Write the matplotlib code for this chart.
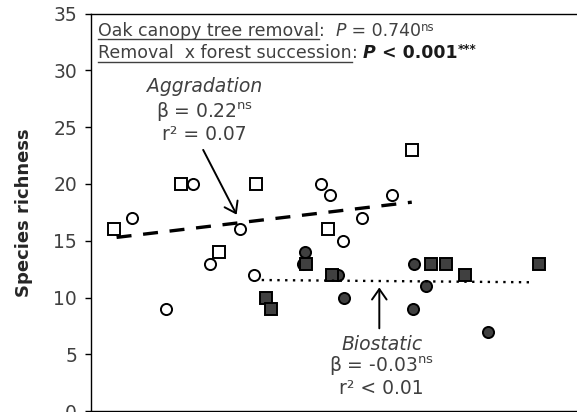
import numpy as np
import matplotlib.pyplot as plt
from matplotlib.lines import Line2D

plt.rc('font', family='DejaVu Sans')
plt.rc('mathtext', fontset='dejavusans')

# aggradation plots (open markers): squares = removal, circles = control
agg_rem_x = [4.7, 18.3, 26.0, 33.6, 48.1, 65.3]
agg_rem_y = [16, 20, 14, 20, 16, 23]
agg_ctl_x = [8.3, 20.8, 15.2, 24.2, 30.3, 33.2, 46.7, 48.6, 51.3, 55.1, 61.2]
agg_ctl_y = [17, 20, 9, 13, 16, 12, 20, 19, 15, 17, 19]

# biostatic plots (filled markers)
bio_rem_x = [35.6, 36.6, 43.7, 49.0, 69.2, 72.1, 76.0, 91.1]
bio_rem_y = [10, 9, 13, 12, 13, 13, 12, 13]
bio_ctl_x = [43.4, 43.1, 50.3, 51.5, 65.7, 65.5, 68.1, 80.6]
bio_ctl_y = [14, 13, 12, 10, 13, 9, 11, 7]

# fitted trend lines (end points)
agg_fit_x = [5.2, 65.2]
agg_fit_y = [15.3, 18.4]
bio_fit_x = [34.7, 89.9]
bio_fit_y = [11.55, 11.35]

txt = '#404040'
fill = '#404040'

fig = plt.figure(figsize=(5.77, 4.12), dpi=100)
ax = fig.add_axes([91/577, 0.7/412, 492/577, 397.8/412])

ms = 8
mew = 1.4
ax.plot(agg_ctl_x, agg_ctl_y, 'o', ms=ms, mfc='white', mec='black', mew=mew, zorder=3)
ax.plot(agg_rem_x, agg_rem_y, 's', ms=ms, mfc='white', mec='black', mew=mew, zorder=3)
ax.plot(bio_ctl_x, bio_ctl_y, 'o', ms=ms, mfc=fill, mec='black', mew=mew, zorder=3)
ax.plot(bio_rem_x, bio_rem_y, 's', ms=ms, mfc=fill, mec='black', mew=mew, zorder=3)

ax.plot(agg_fit_x, agg_fit_y, color='black', lw=2.4, ls=(0, (4.5, 3.5)), zorder=4)
ax.plot(bio_fit_x, bio_fit_y, color='black', lw=1.7, ls=(0, (1, 2.3)), zorder=4)

ax.set_xlim(0, 100)
ax.set_ylim(0, 35)
ax.set_xticks([])
ax.set_yticks(np.arange(0, 36, 5))
ax.tick_params(axis='y', direction='out', length=4.5, width=1, pad=5.5,
               labelsize=13.5, labelcolor=txt)
ax.spines['right'].set_visible(False)
for s in ['left', 'top', 'bottom']:
    ax.spines[s].set_linewidth(1)
ax.set_ylabel('Species richness', fontsize=13, fontweight='bold', color='#262626')
ax.yaxis.set_label_coords(-0.117, 0.5)

# annotations
arr = dict(arrowstyle='->, head_length=0.5, head_width=0.35', lw=1.4,
           color='black', mutation_scale=15, shrinkA=0, shrinkB=0)
ax.annotate('', xy=(29.6, 17.3), xytext=(22.8, 23.0), arrowprops=arr)
ax.annotate('', xy=(58.6, 10.9), xytext=(58.6, 7.3), arrowprops=arr)

fs = 13.5
ax.text(23.0, 28.1, 'Aggradation', style='italic', ha='center', va='baseline', fontsize=fs, color=txt)
ax.text(23.0, 25.8, r'β = 0.22$^{\mathregular{ns}}$', ha='center', va='baseline', fontsize=fs, color=txt)
ax.text(23.0, 23.9, 'r² = 0.07', ha='center', va='baseline', fontsize=fs, color=txt)
ax.text(59.1, 5.35, 'Biostatic', style='italic', ha='center', va='baseline', fontsize=fs, color=txt)
ax.text(59.1, 3.45, r'β = -0.03$^{\mathregular{ns}}$', ha='center', va='baseline', fontsize=fs, color=txt)
ax.text(59.1, 1.55, 'r² < 0.01', ha='center', va='baseline', fontsize=fs, color=txt)

# header lines built from pieces so parts can be underlined
hfs = 12.5
bold_c = '#1a1a1a'
line1 = [('Oak canopy tree removal', dict(), 0, True),
         (':', dict(), 0, False),
         ('  P', dict(style='italic'), 0, False),
         (' = 0.740', dict(), 0, False),
         ('ns', dict(fontsize=8.5), 4.5, False)]
line2 = [('Removal  x forest succession', dict(), 0, True),
         (':', dict(), 0, False),
         (' P', dict(style='italic', weight='bold', color=bold_c), 0, False),
         (' < 0.001', dict(weight='bold', color=bold_c), 0, False),
         ('***', dict(fontsize=8.5, weight='bold', color=bold_c), 4.5, False)]


def write_line(pieces, x0, y0):
    under = []
    prev = None
    for s, kw, dy, ul in pieces:
        kw = dict(kw)
        kw.setdefault('fontsize', hfs)
        kw.setdefault('color', txt)
        if prev is None:
            t = fig.text(x0 / 577, 1 - y0 / 412, s, va='baseline', ha='left', **kw)
        else:
            t = ax.annotate(s, xy=(1, 0), xycoords=prev, xytext=(0, dy),
                            textcoords='offset points', va='bottom', ha='left',
                            annotation_clip=False, **kw)
            if dy:
                prev = t
                continue
        if ul:
            under.append(t)
        prev = t
    return under


u1 = write_line(line1, 98, 36)
u2 = write_line(line2, 98, 58.3)
fig.canvas.draw()
r = fig.canvas.get_renderer()
for t, yline in [(u1[0], 38.6), (u2[0], 61.5)]:
    bb = t.get_window_extent(r)
    fig.add_artist(Line2D([bb.x0, bb.x1], [412 - yline, 412 - yline],
                          transform=None, color=txt, lw=1.0))

fig.savefig('out.png', dpi=100)
